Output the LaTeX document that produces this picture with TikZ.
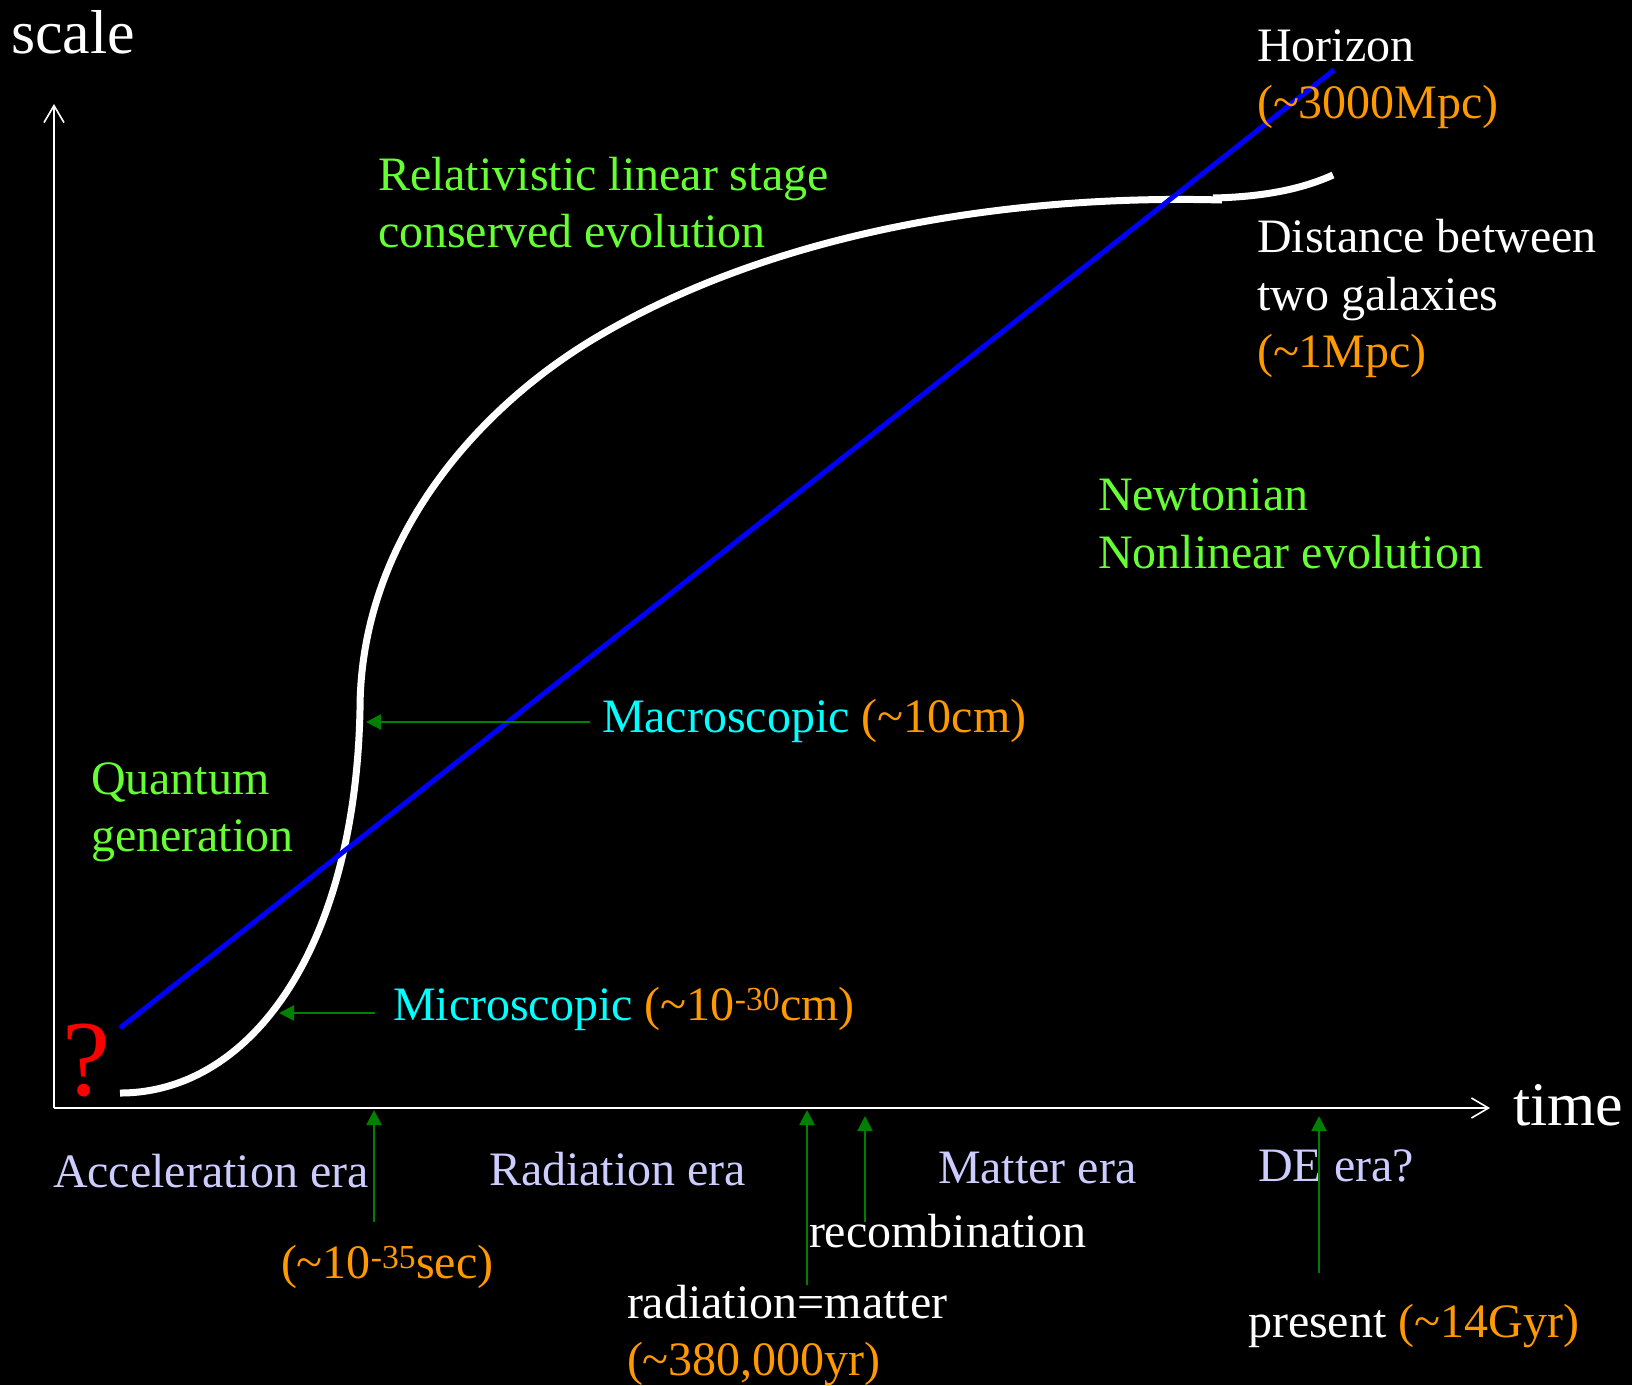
\documentclass[tikz,border=0pt]{standalone}
\usepackage{fontspec}
\setmainfont{Liberation Serif}
\usetikzlibrary{arrows.meta}
\definecolor{lgreen}{RGB}{102,255,51}
\definecolor{dgreen}{RGB}{0,128,0}
\definecolor{lcyan}{RGB}{0,255,255}
\definecolor{lorange}{RGB}{255,153,0}
\definecolor{lav}{RGB}{204,204,255}
\definecolor{pblue}{RGB}{0,0,255}
\newcommand{\tld}{\textasciitilde}
\tikzset{
  txt/.style={anchor=base west, inner sep=0pt, outer sep=0pt, font=\fontsize{48}{57}\selectfont},
  bigtxt/.style={anchor=base west, inner sep=0pt, outer sep=0pt, font=\fontsize{62}{70}\selectfont, text=white},
  axisline/.style={draw=white, line width=1.6pt, -{Straight Barb[length=17pt,width=20pt,line width=1.6pt]}},
  garrow/.style={draw=dgreen, line width=2.2pt, -{Triangle[length=15pt,width=15pt]}, dgreen},
  curveline/.style={draw=white, line width=7pt},
  horizonline/.style={draw=pblue, line width=5pt}
}
\begin{document}
\begin{tikzpicture}[x=1pt,y=-1pt]
\fill[black] (0,0) rectangle (1632,1385);
\useasboundingbox (0,0) rectangle (1632,1385);

% axes
\coordinate (origin) at (54,1108);
\coordinate (ytop) at (54,104);
\coordinate (xend) at (1490,1108);
\draw[axisline] (origin) -- (ytop);
\draw[axisline] (origin) -- (xend);
\node[bigtxt] (scalelbl) at (11,53) {scale};
\node[bigtxt] (timelbl) at (1513,1125) {time};

% white curve (distance between two galaxies)
\coordinate (c0) at (120,1093);
\coordinate (c1) at (360,710);
\coordinate (c2) at (597,337);
\coordinate (c3) at (1222,200);
\draw[curveline] (c0) .. controls (250,1093) and (355,950) .. (c1)
  .. controls (360,540) and (477,408) .. (c2)
  .. controls (769,235) and (1000,194) .. (c3);
\coordinate (d0) at (1213,198);
\coordinate (d1) at (1333,175);
\draw[curveline] (d0) .. controls (1260,197) and (1300,190) .. (d1);

% horizon (blue line)
\coordinate (hstart) at (120,1028);
\coordinate (hend) at (1334,70);
\draw[horizonline] (hstart) -- (hend);

% red question mark
\node[anchor=base west, inner sep=0pt, text=red, font=\fontsize{108}{120}\selectfont] (qmark) at (62,1095) {?};

% top-right labels
\node[txt, text=white] (hor1) at (1257,61) {Horizon};
\node[txt, text=lorange] (hor2) at (1257,118) {(\tld3000Mpc)};
\node[txt, text=white] (dist1) at (1257,252) {Distance between};
\node[txt, text=white] (dist2) at (1257,310) {two galaxies};
\node[txt, text=lorange] (dist3) at (1257,367) {(\tld1Mpc)};

% region labels
\node[txt, text=lgreen] (rel1) at (378,190) {Relativistic linear stage};
\node[txt, text=lgreen] (rel2) at (378,247) {conserved evolution};
\node[txt, text=lgreen] (newt1) at (1098,510) {Newtonian};
\node[txt, text=lgreen] (newt2) at (1098,568) {Nonlinear evolution};
\node[txt, text=lgreen] (quant1) at (91,794) {Quantum};
\node[txt, text=lgreen] (quant2) at (91,851) {generation};

% scale arrows
\node[txt] (macro) at (602,732) {\textcolor{lcyan}{Macroscopic} \textcolor{lorange}{(\tld10cm)}};
\coordinate (macroStart) at (590,722);
\coordinate (macroTip) at (366,722);
\draw[garrow] (macroStart) -- (macroTip);

\node[txt] (micro) at (393,1020) {\textcolor{lcyan}{Microscopic} \textcolor{lorange}{(\tld10\textsuperscript{-30}cm)}};
\coordinate (microStart) at (375,1013);
\coordinate (microTip) at (279,1013);
\draw[garrow] (microStart) -- (microTip);

% era labels
\node[txt, text=lav] (accel) at (53,1187) {Acceleration era};
\node[txt, text=lav] (radera) at (489,1185) {Radiation era};
\node[txt, text=lav] (matera) at (938,1183) {Matter era};
\node[txt, text=lav] (deera) at (1258,1181) {DE era?};

% time markers
\node[txt, text=lorange] (t35) at (281,1278) {(\tld10\textsuperscript{-35}sec)};
\coordinate (accStart) at (374,1222);
\coordinate (accTip) at (374,1110);
\draw[garrow] (accStart) -- (accTip);

\node[txt, text=white] (recomb) at (809,1247) {recombination};
\coordinate (recStart) at (865,1222);
\coordinate (recTip) at (865,1116);
\draw[garrow] (recStart) -- (recTip);

\node[txt, text=white] (eq1) at (627,1318) {radiation=matter};
\node[txt, text=lorange] (eq2) at (627,1375) {(\tld380,000yr)};
\coordinate (eqStart) at (807,1285);
\coordinate (eqTip) at (807,1110);
\draw[garrow] (eqStart) -- (eqTip);

\node[txt] (present) at (1248,1337) {\textcolor{white}{present} \textcolor{lorange}{(\tld14Gyr)}};
\coordinate (presStart) at (1319,1273);
\coordinate (presTip) at (1319,1116);
\draw[garrow] (presStart) -- (presTip);
\end{tikzpicture}
\end{document}
